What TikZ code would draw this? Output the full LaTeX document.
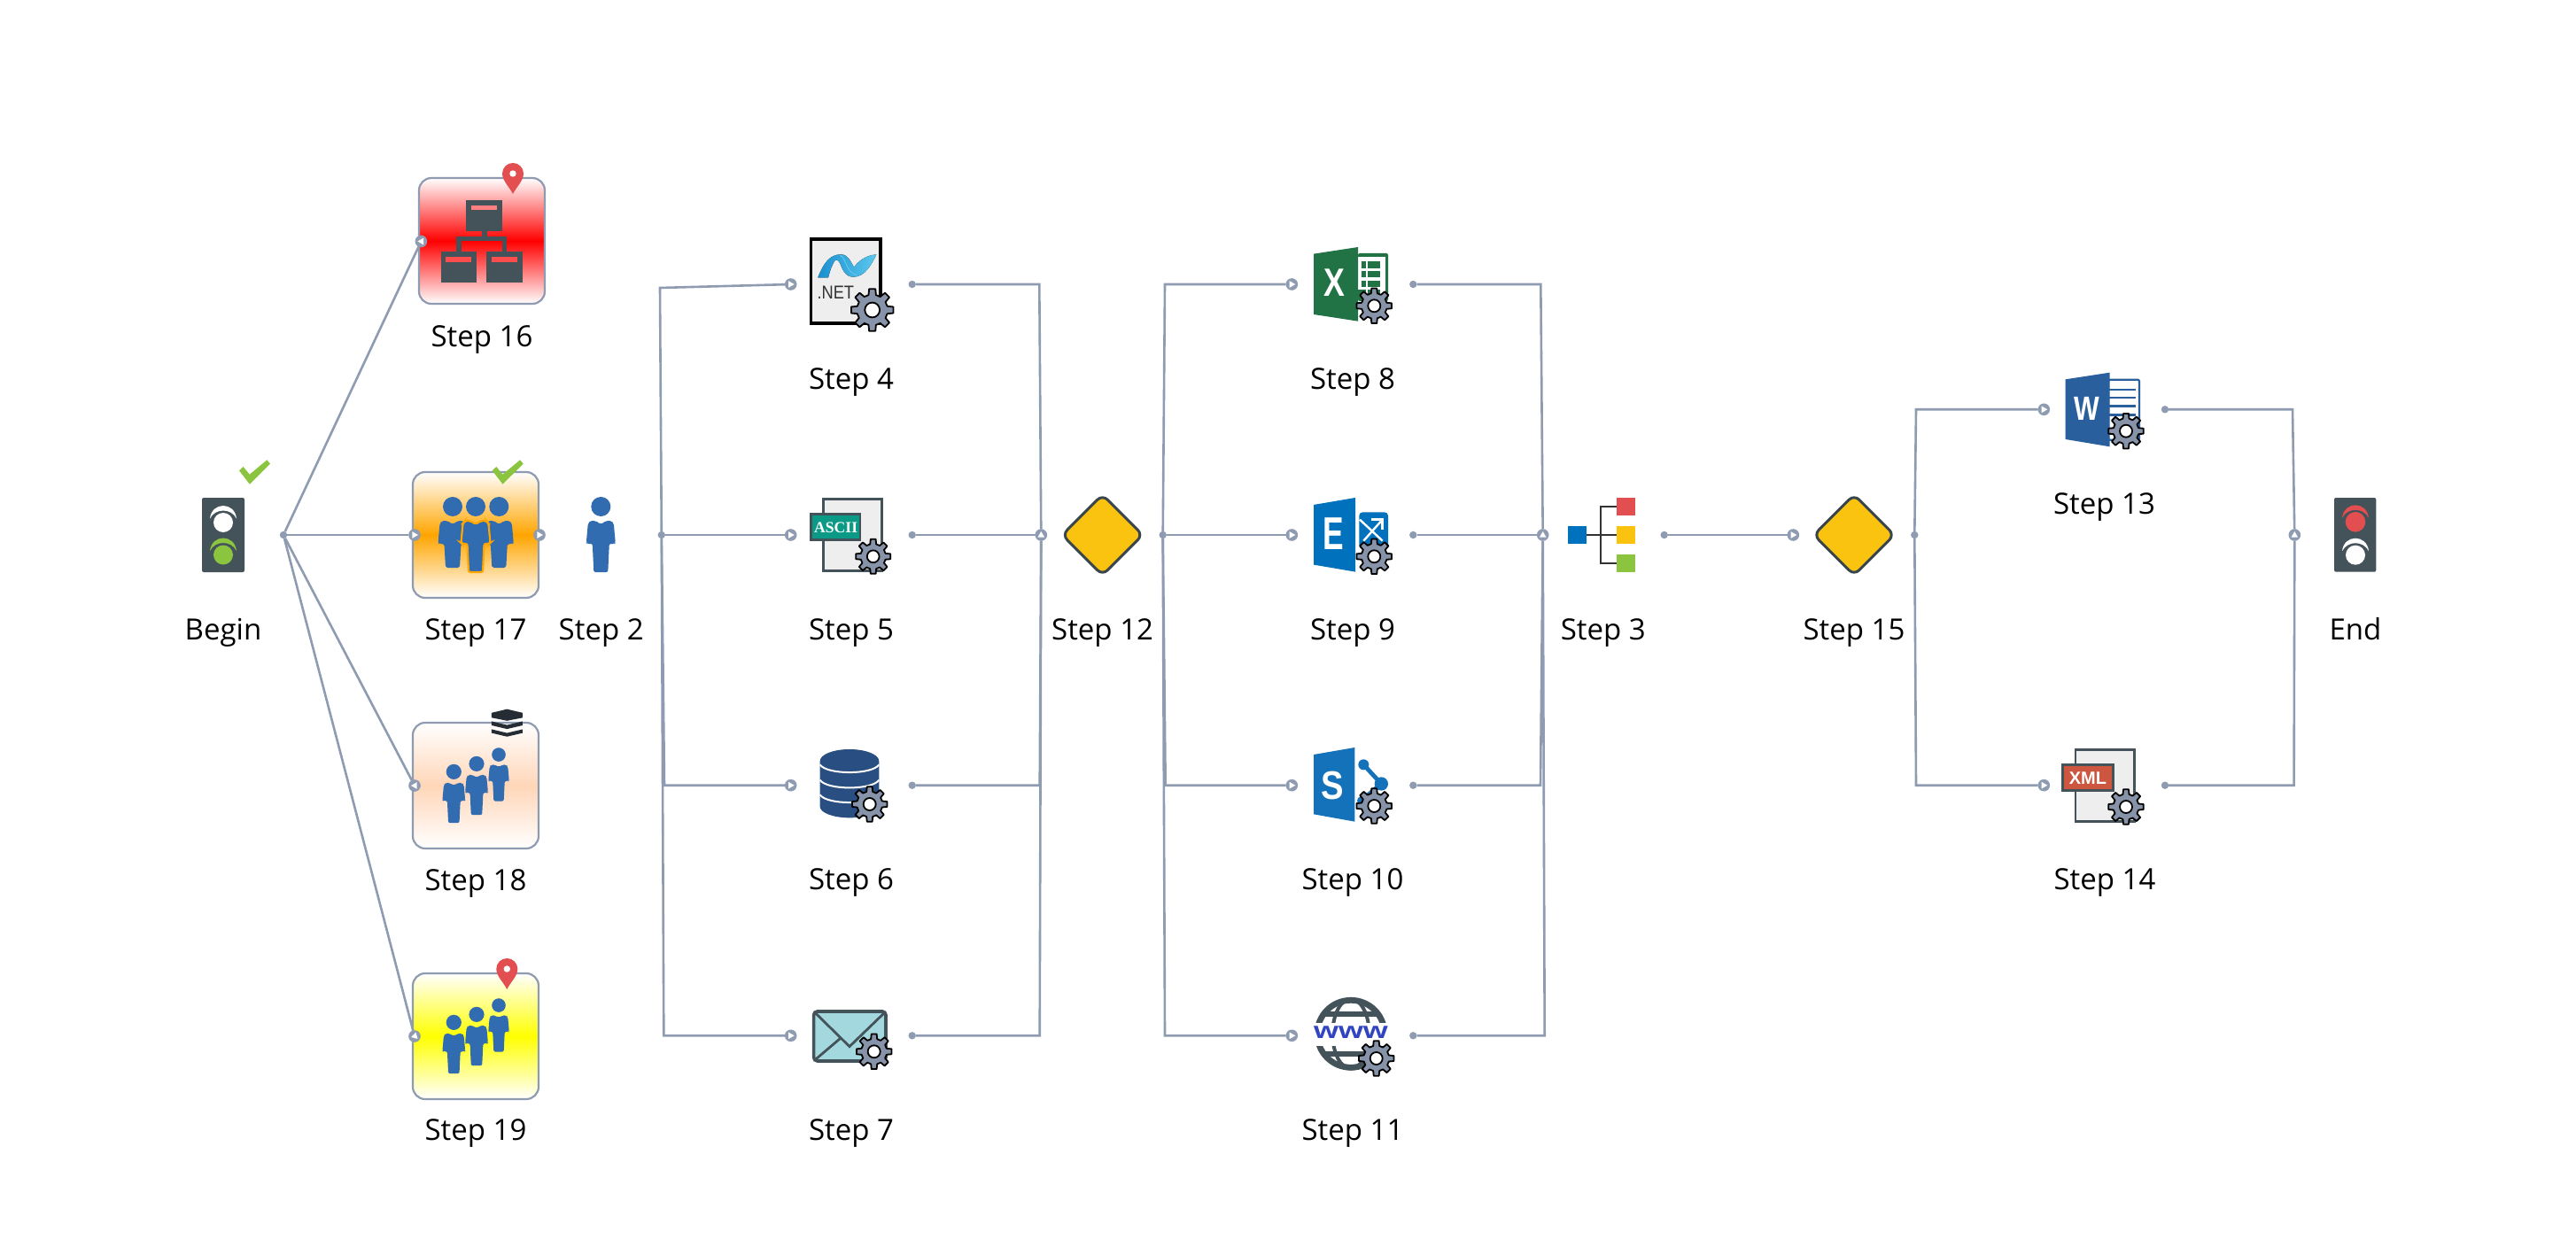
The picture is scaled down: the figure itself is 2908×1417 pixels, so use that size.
\documentclass[tikz,border=0pt]{standalone}
\usepackage{fontspec}
\setmainfont{Open Sans}
\newfontfamily\libs{Liberation Sans}
\newfontfamily\libt{Liberation Serif}
\usetikzlibrary{shapes.geometric}
\definecolor{conn}{HTML}{8E9BB0}
\definecolor{slate}{HTML}{44525A}
\definecolor{gearc}{HTML}{8793A8}
\definecolor{personc}{HTML}{316BB0}
\definecolor{okgreen}{HTML}{8BC53F}
\definecolor{redc}{HTML}{E34F50}
\definecolor{gold}{HTML}{F9C30F}
\definecolor{docc}{HTML}{EEEEEE}
\definecolor{peachc}{HTML}{FFD6B8}
\definecolor{orangec}{HTML}{FFA500}
\definecolor{dbc}{HTML}{284E82}
\definecolor{mailc}{HTML}{A3D9DE}
\definecolor{xlc}{HTML}{217346}
\definecolor{exc}{HTML}{0072BD}
\definecolor{spc}{HTML}{1472BA}
\definecolor{wwwc}{HTML}{3344C0}
\definecolor{wdc}{HTML}{2A5F9E}
\definecolor{xmlc}{HTML}{CC5640}
\definecolor{asciic}{HTML}{0A9A86}
\definecolor{layerc}{HTML}{252C33}
\definecolor{swa}{HTML}{1A8FD0}
\definecolor{swb}{HTML}{0F6FB5}
\definecolor{swc}{HTML}{5CC8EE}
\tikzset{
  x=0.5pt,y=-0.5pt,
  lab/.style={anchor=base,font=\fontsize{16.5}{20}\selectfont,text=black,inner sep=0pt},
  conline/.style={draw=conn,line width=1.3pt,line join=miter},
  portnode/.style={circle,fill=conn,minimum size=6.8pt,inner sep=0pt,outer sep=0pt},
  dotnode/.style={circle,fill=conn,minimum size=4.2pt,inner sep=0pt,outer sep=0pt},
  stepbox/.style={rectangle,draw=conn,line width=1.1pt,rounded corners=7pt,minimum size=71pt,inner sep=0pt,outer sep=0pt,top color=white,bottom color=white,middle color=#1},
  gatenode/.style={diamond,aspect=1,fill=gold,draw=slate!85!black,line width=1.5pt,rounded corners=4pt,minimum size=45.5pt,inner sep=0pt,outer sep=0pt},
  tag/.style={draw=slate,line width=1.4pt},
}
\newcommand{\portn}[4]{% name, x, y, angle
  \node[portnode] (#1) at (#2,#3) {};
  \fill[white,shift={(#1.center)},rotate=#4] (4,0) -- (-2.6,3.8) -- (-2.6,-3.8) -- cycle;}
\newcommand{\dotn}[3]{\node[dotnode] (#1) at (#2,#3) {};}
\newcommand{\gearicon}[3]{%
  \begin{scope}[shift={(#1,#2)},scale=#3/20]
    \draw[fill=gearc,draw=black,line width=0.9pt,line join=round] (-14:14.5)
      \foreach \a in {0,45,...,315}{ -- (\a-14:14.5) -- (\a-8.5:20) -- (\a+8.5:20) -- (\a+14:14.5) } -- cycle;
    \draw[fill=white,draw=black,line width=0.9pt] (0,0) circle (7);
  \end{scope}}
\newcommand{\personfig}[5]{% x, y, scale, leg bottom, stroke
  \begin{scope}[shift={(#1,#2)},scale=#3]
    \fill[personc] (0,-45) circle (11);
    \path[fill=personc,#5,rounded corners=1pt] (-6,-29) -- (0,-25) -- (6,-29) -- (12,-29) -- (14.5,-26) -- (16.5,-4) -- (15.5,-3) -- (9.5,-3) -- (8,#4) -- (-8,#4) -- (-9.5,-3) -- (-15.5,-3) -- (-16.5,-4) -- (-14.5,-26) -- (-12,-29) -- cycle;
  \end{scope}}
\newcommand{\checkm}[2]{%
  \fill[okgreen,shift={(#1,#2)}] (0,12) -- (11.8,27.4) -- (35,4.3) -- (31.4,0) -- (11.8,16.4) -- (4.6,7.7) -- cycle;}
\newcommand{\pinm}[2]{%
  \begin{scope}[shift={(#1,#2)}]
    \fill[redc] (0,23) .. controls (-4,15) and (-12,8) .. (-12,0) arc[start angle=180,end angle=360,radius=12] .. controls (12,8) and (4,15) .. (0,23) -- cycle;
    \fill[white] (0,0) circle (3.7);
  \end{scope}}
\newcommand{\tlight}[4]{% x, y, radius, colour
  \begin{scope}[shift={(#1,#2)}]
    \fill[#4] (0,0) circle (#3);
    \fill[#4] (-15,-4.5) .. controls (-13,-23.8) and (13,-23.8) .. (15,-4.5) .. controls (9,-16.5) and (-9,-16.5) .. (-15,-4.5) -- cycle;
  \end{scope}}
\begin{document}
\begin{tikzpicture}
\useasboundingbox (0,0) rectangle (2908,1417);
\fill[white] (0,0) rectangle (2908,1417);

% ---- connector ends -------------------------------------------------
\dotn{dBegin}{320}{604}
\dotn{d2}{746.8}{604}
\dotn{d4}{1029.7}{321}
\dotn{d5}{1029.7}{604}
\dotn{d6}{1029.7}{886.7}
\dotn{d7}{1029.7}{1169.3}
\dotn{d12}{1312.7}{604}
\dotn{d8}{1595.3}{321}
\dotn{d9}{1595.3}{604}
\dotn{d10}{1595.3}{886.7}
\dotn{d11}{1595.3}{1169.3}
\dotn{d3}{1878.7}{604}
\dotn{d15}{2161.3}{604}
\dotn{d13}{2444}{462.3}
\dotn{d14}{2444}{886.7}

\coordinate (c2a) at (745,325);
\coordinate (c2c) at (750,886.7);
\coordinate (c2d) at (749.3,1169.3);
\coordinate (c4) at (1173.3,321);
\coordinate (c6) at (1173.7,886.7);
\coordinate (c7) at (1173.7,1169.3);
\coordinate (c12a) at (1315,321);
\coordinate (c12c) at (1315.7,886.7);
\coordinate (c12d) at (1315,1169.3);
\coordinate (c8) at (1739.3,321);
\coordinate (c10) at (1739,886.7);
\coordinate (c11) at (1743.7,1169.3);
\coordinate (c15a) at (2163,462.3);
\coordinate (c15b) at (2163,886.7);
\coordinate (c13) at (2588,462.3);
\coordinate (c14) at (2589.6,886.7);

% ---- boxes -----------------------------------------------------------
\node[stepbox=red] (s16) at (544,272) {};
\node[stepbox=orangec] (s17) at (537,604) {};
\node[stepbox=peachc] (s18) at (537,887) {};
\node[stepbox=yellow] (s19) at (537,1170) {};

% ---- gateways --------------------------------------------------------
\node[gatenode] (s12) at (1244.6,604) {};
\node[gatenode] (s15) at (2093,604) {};

% ---- ports -----------------------------------------------------------
\portn{p16}{475.4}{272.5}{180}
\portn{p17}{468}{604}{0}
\portn{p17o}{609}{604}{0}
\portn{p18}{468}{887}{180}
\portn{p19}{468}{1170}{195}
\portn{p4}{892.7}{321}{0}
\portn{p5}{892.7}{604}{0}
\portn{p6}{892.7}{886.7}{0}
\portn{p7}{892.7}{1169.3}{0}
\portn{p12}{1175.3}{604}{90}
\portn{p8}{1458.3}{321}{0}
\portn{p9}{1458.3}{604}{0}
\portn{p10}{1458.3}{886.7}{0}
\portn{p11}{1458.3}{1169.3}{0}
\portn{p3}{1741.7}{604}{90}
\portn{p15}{2024.3}{604}{0}
\portn{p13}{2307.3}{462.3}{0}
\portn{p14}{2307.3}{886.7}{0}
\portn{pEnd}{2590.3}{604}{90}

% ---- connectors ------------------------------------------------------
\draw[conline] (dBegin) -- (p16);
\draw[conline] (dBegin) -- (p17);
\draw[conline] (dBegin) -- (p18);
\draw[conline] (dBegin) -- (p19);
\draw[conline] (d2) -- (c2a) -- (p4);
\draw[conline] (d2) -- (p5);
\draw[conline] (d2) -- (c2c) -- (p6);
\draw[conline] (d2) -- (c2d) -- (p7);
\draw[conline] (d4) -- (c4) -- (p12);
\draw[conline] (d5) -- (p12);
\draw[conline] (d6) -- (c6) -- (p12);
\draw[conline] (d7) -- (c7) -- (p12);
\draw[conline] (d12) -- (c12a) -- (p8);
\draw[conline] (d12) -- (p9);
\draw[conline] (d12) -- (c12c) -- (p10);
\draw[conline] (d12) -- (c12d) -- (p11);
\draw[conline] (d8) -- (c8) -- (p3);
\draw[conline] (d9) -- (p3);
\draw[conline] (d10) -- (c10) -- (p3);
\draw[conline] (d11) -- (c11) -- (p3);
\draw[conline] (d3) -- (p15);
\draw[conline] (d15) -- (c15a) -- (p13);
\draw[conline] (d15) -- (c15b) -- (p14);
\draw[conline] (d13) -- (c13) -- (pEnd);
\draw[conline] (d14) -- (c14) -- (pEnd);

% ---- Begin / End lights ----------------------------------------------
\fill[slate,rounded corners=1pt] (228,562) rectangle (276,646);
\tlight{252}{590}{11}{white}
\tlight{252}{626.5}{11}{okgreen}
\fill[slate,rounded corners=1pt] (2635,562) rectangle (2682.3,645.7);
\tlight{2659}{589.3}{11.3}{redc}
\tlight{2659}{626.7}{11}{white}
\checkm{270}{519.3}
\checkm{555.7}{519.3}

% ---- Step 16: organisation chart -------------------------------------
\begin{scope}[shift={(180,160)},scale=0.35714]
  \fill[slate] (970,185) rectangle (1083,283);
  \fill[slate] (1019,283) rectangle (1035,300);
  \fill[slate] (938,300) rectangle (1098,315);
  \fill[slate] (938,315) rectangle (954,348);
  \fill[slate] (1083,315) rectangle (1098,348);
  \fill[slate] (889,348) rectangle (1002,444);
  \fill[slate] (1034,348) rectangle (1148,444);
  \fill[red!50!white] (986,201) rectangle (1067,217);
  \fill[red!70!white] (904,364) rectangle (986,380);
  \fill[red!70!white] (1051,364) rectangle (1132,380);
\end{scope}
\pinm{579}{196}

% ---- Steps 17, 2, 18, 19: people -------------------------------------
\personfig{511}{617}{1}{24}{}
\personfig{563.3}{617}{1}{24}{}
\personfig{537}{617}{1}{29}{draw=orangec,line width=1.1pt}
\personfig{678.3}{617}{1}{29}{}

\personfig{563}{884}{0.71}{29}{}
\personfig{538}{897.5}{0.78}{29}{}
\personfig{512.3}{906.5}{0.78}{29}{}
\begin{scope}[shift={(440,780)},xscale=0.3333,yscale=0.3448]
  \fill[layerc] (345,72) -- (397,60) -- (450,72) -- (450,88) -- (397,98) -- (345,88) -- cycle;
  \fill[layerc] (345,100) -- (397,112) -- (450,100) -- (450,113) -- (397,125) -- (345,113) -- cycle;
  \fill[layerc] (345,126) -- (397,138) -- (450,126) -- (450,138) -- (397,150) -- (345,138) -- cycle;
\end{scope}

\personfig{563}{1167}{0.71}{29}{}
\personfig{538}{1180.5}{0.78}{29}{}
\personfig{512.3}{1189.5}{0.78}{29}{}
\pinm{572.3}{1094}

% ---- Step 4: .NET ----------------------------------------------------
\begin{scope}[shift={(880,240)},scale=0.3333]
  \draw[fill=docc,draw=black,line width=1.7pt] (107,90) rectangle (342,375);
  \fill[left color=swa,middle color=swb,right color=swc] (130,220) .. controls (150,170) and (170,142) .. (208,142) .. controls (232,142) and (240,165) .. (252,185) .. controls (268,165) and (290,145) .. (328,142) .. controls (312,175) and (290,218) .. (250,218) .. controls (222,218) and (212,190) .. (205,172) .. controls (198,160) and (192,158) .. (188,162) .. controls (178,175) and (170,200) .. (165,220) -- cycle;
  \draw[swc,line width=.5pt] (205,145) .. controls (225,150) and (225,205) .. (262,212);
  \node[font=\libs\fontsize{10.5}{12}\selectfont,text=black!80,inner sep=0pt] (net) at (190,270) {\scalebox{.87}[1]{.NET}};
\end{scope}
\gearicon{984.7}{350}{24}

% ---- Step 5: ASCII ---------------------------------------------------
\begin{scope}[shift={(880,240)},scale=0.3333]
  \draw[fill=docc,tag] (148,970) rectangle (346,1213);
  \draw[fill=asciic,tag] (106,1022) rectangle (273,1108);
  \node[font=\libt\bfseries\fontsize{8.8}{10}\selectfont,text=white,inner sep=0pt] (ascii) at (191,1066) {ASCII};
\end{scope}
\gearicon{985.7}{628.3}{19.7}

% ---- Step 6: database ------------------------------------------------
\begin{scope}[shift={(880,820)},scale=0.3333]
  \fill[dbc] (137,118) arc[x radius=100,y radius=40,start angle=180,end angle=360] -- (337,272) arc[x radius=100,y radius=38,start angle=0,end angle=180] -- cycle;
  \draw[white,line width=1pt] (137,130) .. controls (160,165) and (314,165) .. (337,130);
  \draw[white,line width=1pt] (137,182) .. controls (160,217) and (314,217) .. (337,182);
  \draw[white,line width=1pt] (137,232) .. controls (160,267) and (314,267) .. (337,232);
\end{scope}
\gearicon{981.7}{908}{20}

% ---- Step 7: mail ----------------------------------------------------
\begin{scope}[shift={(880,820)},scale=0.3333]
  \draw[fill=mailc,draw=slate,line width=1.8pt,rounded corners=2pt] (116,966) rectangle (360,1134);
  \draw[slate,line width=1.4pt] (118,968) -- (237,1085) -- (358,968);
  \draw[slate,line width=1.4pt] (118,1132) -- (205,1058);
\end{scope}
\gearicon{986.7}{1187.3}{20}

% ---- Step 8: Excel ---------------------------------------------------
\begin{scope}[shift={(1440,240)},scale=0.3333]
  \fill[xlc,rounded corners=1pt] (279,138) rectangle (381,300);
  \fill[white] (279,150) rectangle (372,166);
  \fill[white] (279,188) rectangle (372,198);
  \fill[white] (279,220) rectangle (372,230);
  \fill[white] (279,252) rectangle (372,262);
  \fill[white] (279,166) rectangle (290,188);
  \fill[white] (279,198) rectangle (290,220);
  \fill[white] (279,230) rectangle (290,252);
  \fill[white] (305,150) rectangle (313,290);
  \fill[white] (353,150) rectangle (372,290);
  \fill[xlc] (129,140) -- (279,117) -- (279,368) -- (129,345) -- cycle;
  \node[font=\libs\bfseries\fontsize{22.3}{24}\selectfont,text=white,inner sep=0pt] (xl) at (200,238) {\scalebox{.8}[1]{X}};
\end{scope}
\gearicon{1551.3}{345.3}{20}

% ---- Step 9: Exchange ------------------------------------------------
\begin{scope}[shift={(1440,240)},scale=0.3333]
  \fill[exc,rounded corners=2pt] (283,1015) rectangle (381,1140);
  \draw[white,line width=1.2pt] (285,1040) -- (362,1112);
  \draw[white,line width=1.2pt] (362,1040) -- (298,1112);
  \draw[white,line width=1.2pt] (325,1040) -- (362,1040) -- (362,1075);
  \fill[exc] (129,990) -- (270,966) -- (270,1217) -- (129,1193) -- cycle;
  \node[font=\libs\bfseries\fontsize{26}{28}\selectfont,text=white,inner sep=0pt] (ex) at (197,1089) {\scalebox{.68}[1]{E}};
\end{scope}
\gearicon{1551.3}{628.3}{20}

% ---- Step 10: SharePoint ---------------------------------------------
\begin{scope}[shift={(1440,820)},scale=0.3333]
  \draw[spc,line width=2.4pt] (298,130) -- (358,195) -- (290,252);
  \fill[spc] (298,130) circle (18);
  \fill[spc] (358,195) circle (23);
  \fill[spc] (290,252) circle (14);
  \fill[spc] (129,96) -- (268,72) -- (268,323) -- (129,298) -- cycle;
  \node[font=\libs\bfseries\fontsize{22.5}{24}\selectfont,text=white,inner sep=0pt] (sp) at (193,200) {\scalebox{.85}[1]{S}};
\end{scope}
\gearicon{1551.3}{910}{20}

% ---- Step 11: web ----------------------------------------------------
\begin{scope}[shift={(1440,820)},scale=0.3333]
  \draw[slate,line width=3.4pt] (255,1042) circle (114);
  \draw[slate,line width=2pt] (255,1042) ellipse (62 and 118);
  \draw[slate,line width=2.6pt] (160,975) -- (350,975);
  \draw[slate,line width=2.6pt] (160,1110) -- (350,1110);
  \fill[white] (120,1004) rectangle (390,1082);
  \node[font=\libs\bfseries\fontsize{13}{14}\selectfont,text=wwwc,inner sep=0pt] (www) at (255,1037) {\scalebox{1.38}[1]{www}};
\end{scope}
\gearicon{1553.7}{1195}{20}

% ---- Step 3: tree ----------------------------------------------------
\begin{scope}[shift={(1740,520)},scale=0.3333]
  \draw[black!80,line width=1pt] (152,252) -- (256,252);
  \draw[black!80,line width=1pt] (256,155) -- (202,155) -- (202,348) -- (256,348);
  \fill[exc] (90,222) rectangle (152,283);
  \fill[redc] (256,126) rectangle (317,187);
  \fill[gold] (256,222) rectangle (317,283);
  \fill[okgreen] (256,317) rectangle (317,378);
\end{scope}

% ---- Step 13: Word ---------------------------------------------------
\begin{scope}[shift={(2280,400)},scale=0.3333]
  \draw[fill=white,draw=wdc,line width=1.1pt,rounded corners=1pt] (300,86) rectangle (405,290);
  \foreach \yy in {120,147,175,205}{\draw[wdc,line width=1.3pt] (300,\yy) -- (392,\yy);}
  \fill[wdc] (155,85) -- (305,62) -- (305,313) -- (155,288) -- cycle;
  \node[font=\libs\bfseries\fontsize{19}{21}\selectfont,text=white,inner sep=0pt] (wd) at (227,185) {\scalebox{.8}[1]{W}};
\end{scope}
\gearicon{2400}{486.7}{20}

% ---- Step 14: XML ----------------------------------------------------
\begin{scope}[shift={(2280,820)},scale=0.3333]
  \draw[fill=docc,tag] (189,79) rectangle (389,322);
  \draw[fill=xmlc,tag] (146,131) rectangle (316,218);
  \node[font=\libs\bfseries\fontsize{10}{12}\selectfont,text=white,inner sep=0pt] (xm) at (231,176) {XML};
\end{scope}
\gearicon{2400}{911}{20}

% ---- labels ----------------------------------------------------------
\node[lab] (lBegin) at (252,722) {Begin};
\node[lab] (l16) at (544,391.5) {Step 16};
\node[lab] (l17) at (537,722) {Step 17};
\node[lab] (l2) at (678.7,722) {Step 2};
\node[lab] (l18) at (537,1005) {Step 18};
\node[lab] (l19) at (537,1287.5) {Step 19};
\node[lab] (l4) at (961,439.5) {Step 4};
\node[lab] (l5) at (961,722) {Step 5};
\node[lab] (l6) at (961,1004) {Step 6};
\node[lab] (l7) at (961,1287.5) {Step 7};
\node[lab] (l12) at (1244.6,722) {Step 12};
\node[lab] (l8) at (1527,439.5) {Step 8};
\node[lab] (l9) at (1527,722) {Step 9};
\node[lab] (l10) at (1527,1004) {Step 10};
\node[lab] (l11) at (1527,1287.5) {Step 11};
\node[lab] (l3) at (1809.7,722) {Step 3};
\node[lab] (l15) at (2093,722) {Step 15};
\node[lab] (l13) at (2375.5,580) {Step 13};
\node[lab] (l14) at (2376,1004) {Step 14};
\node[lab] (lEnd) at (2659,722) {End};
\end{tikzpicture}
\end{document}
